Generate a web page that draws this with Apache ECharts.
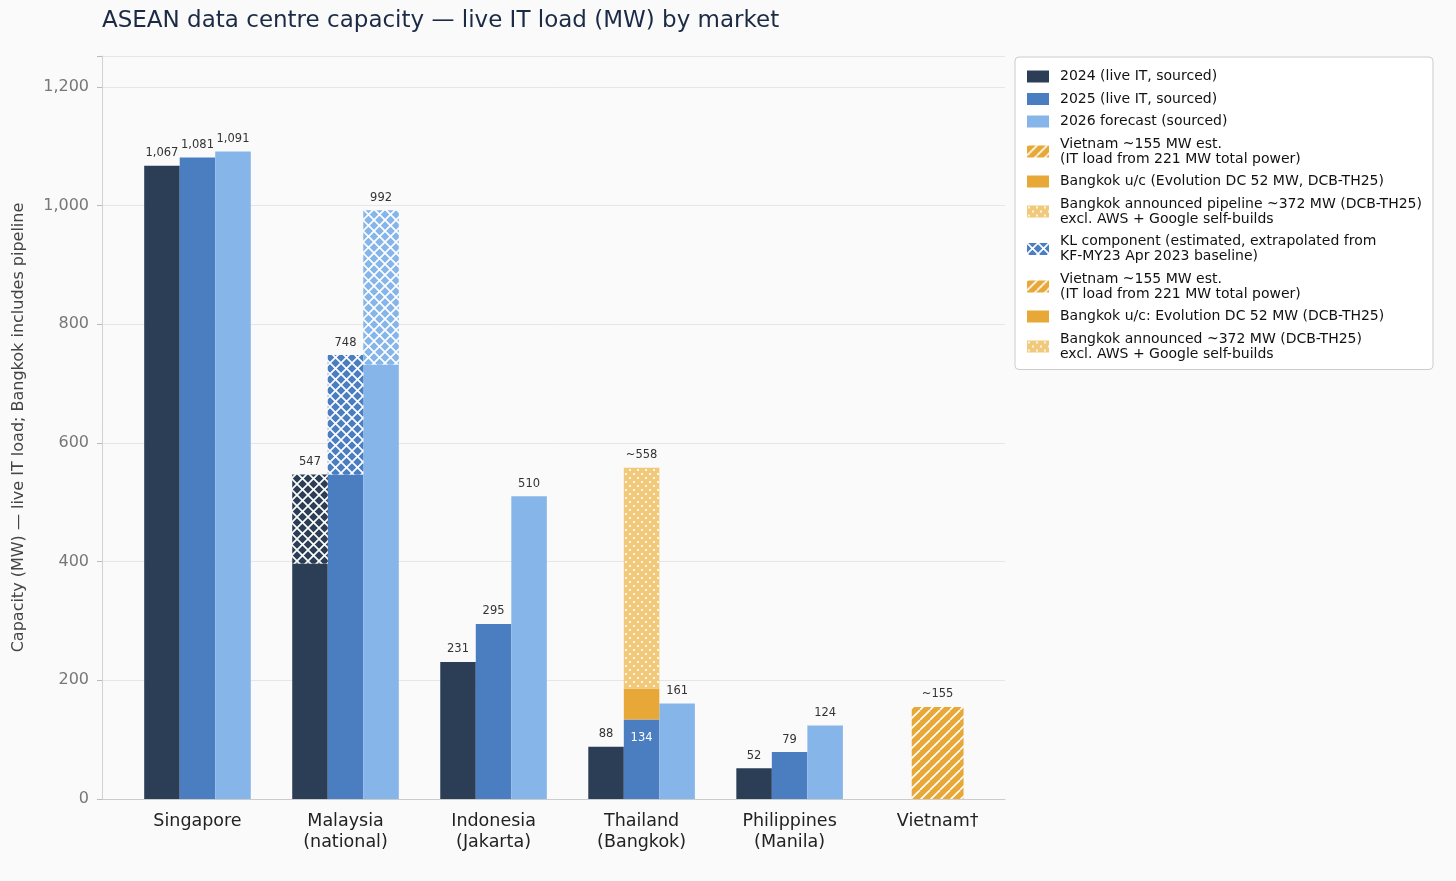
<!DOCTYPE html>
<html>
<head>
<meta charset="utf-8">
<script src="https://cdn.jsdelivr.net/npm/echarts@6.0.0/dist/echarts.min.js"></script>
<style>
  html, body { margin: 0; padding: 0; background: #fafafa; }
  #chart { width: 1456px; height: 881px; }
</style>
</head>
<body>
<div id="chart"></div>
<script>
// 市场 / 年份数据 (MW)
var categories = ['Singapore', 'Malaysia\n(national)', 'Indonesia\n(Jakarta)', 'Thailand\n(Bangkok)', 'Philippines\n(Manila)', 'Vietnam†'];
var live2024 = [1067, 397, 231, 88, 52, 0];
var live2025 = [1081, 547, 295, 134, 79, 0];
var fcst2026 = [1091, 732, 510, 161, 124, 0];
var kl2024 = [0, 150, 0, 0, 0, 0];
var kl2025 = [0, 201, 0, 0, 0, 0];
var kl2026 = [0, 260, 0, 0, 0, 0];
var bkkUnderConstruction = [0, 0, 0, 52, 0, 0];
var bkkAnnounced = [0, 0, 0, 372, 0, 0];
var vietnamEst = [0, 0, 0, 0, 0, 155];
var approxTop = [false, false, false, true, false, true]; // 估算值加 "~"
var yTicks = [0, 200, 400, 600, 800, 1000, 1200];

var names = {
  y24: '2024 (live IT, sourced)',
  y25: '2025 (live IT, sourced)',
  y26: '2026 forecast (sourced)',
  vn: 'Vietnam ~155 MW est.\n(IT load from 221 MW total power)',
  uc: 'Bangkok u/c (Evolution DC 52 MW, DCB-TH25)',
  ann: 'Bangkok announced pipeline ~372 MW (DCB-TH25)\nexcl. AWS + Google self-builds',
  kl: 'KL component (estimated, extrapolated from\nKF-MY23 Apr 2023 baseline)',
  vn2: 'Vietnam ~155 MW est.\n(IT load from 221 MW total power) ',
  uc2: 'Bangkok u/c: Evolution DC 52 MW (DCB-TH25)',
  ann2: 'Bangkok announced ~372 MW (DCB-TH25)\nexcl. AWS + Google self-builds'
};

var C24 = '#2c3e56', C25 = '#4a7ec0', C26 = '#85b5e9', ORANGE = '#e8a838', PALE = '#f1c97b';
var OFF = 0.24, BW = 0.24, VNW = 0.35;

//生成填充图案
function pattern(base, kind) {
  var s = kind === 'dots' ? 8 : (kind === 'cross' ? 11 : 10);
  var c = document.createElement('canvas');
  c.width = s; c.height = s;
  var g = c.getContext('2d');
  g.fillStyle = base;
  g.fillRect(0, 0, s, s);
  g.strokeStyle = '#ffffff';
  g.fillStyle = '#ffffff';
  g.lineWidth = kind === 'cross' ? 1.7 : 1.6;
  var k;
  if (kind === 'cross' || kind === 'slash') {
    for (k = -1; k <= 1; k++) { g.beginPath(); g.moveTo(k * s, s); g.lineTo(k * s + s, 0); g.stroke(); }
  }
  if (kind === 'cross') {
    for (k = -1; k <= 1; k++) { g.beginPath(); g.moveTo(k * s, 0); g.lineTo(k * s + s, s); g.stroke(); }
  }
  if (kind === 'dots') {
    g.beginPath(); g.arc(2, 2, 1.1, 0, Math.PI * 2); g.fill();
    g.beginPath(); g.arc(6, 6, 1.1, 0, Math.PI * 2); g.fill();
  }
  return { image: c, repeat: 'repeat' };
}

var P_KL24 = pattern(C24, 'cross'), P_KL25 = pattern(C25, 'cross'), P_KL26 = pattern(C26, 'cross');
var P_VN = pattern(ORANGE, 'slash'), P_ANN = pattern(PALE, 'dots');

// 把数组转成 [x, 底部, 高度]
function segs(values, bases, offset) {
  var out = [];
  for (var i = 0; i < values.length; i++) {
    if (values[i] > 0) out.push([i + offset, bases ? bases[i] : 0, values[i]]);
  }
  return out;
}
function addArr() {
  var r = [];
  for (var i = 0; i < categories.length; i++) {
    var s = 0;
    for (var a = 0; a < arguments.length; a++) s += arguments[a][i];
    r.push(s);
  }
  return r;
}

function barRenderer(width, fillFn) {
  return function (params, api) {
    var x = api.value(0), base = api.value(1), h = api.value(2);
    var p0 = api.coord([x - width / 2, base]);
    var p1 = api.coord([x + width / 2, base + h]);
    return {
      type: 'rect',
      shape: { x: p0[0], y: p1[1], width: p1[0] - p0[0], height: p0[1] - p1[1] },
      style: { fill: fillFn(params.dataIndex) }
    };
  };
}

function barSeries(name, data, width, color, fillFn) {
  return {
    type: 'custom', name: name, data: data,
    itemStyle: { color: color },
    renderItem: barRenderer(width, fillFn || function () { return color; }),
    z: 2
  };
}

// 标签数据
var labelItems = [];
function pushLabels(tops, offset, approx) {
  for (var i = 0; i < tops.length; i++) {
    if (tops[i] > 0) {
      labelItems.push({ x: i + offset, y: tops[i],
        text: (approx && approx[i] ? '~' : '') + tops[i].toLocaleString('en-US'), inside: false });
    }
  }
}
pushLabels(addArr(live2024, kl2024), -OFF);
pushLabels(addArr(live2025, kl2025, bkkUnderConstruction, bkkAnnounced), 0, approxTop);
pushLabels(addArr(fcst2026, kl2026), OFF);
pushLabels(vietnamEst, 0, approxTop);
labelItems.push({ x: 3, y: live2025[3], text: String(live2025[3]), inside: true });

var klData = segs(kl2024, live2024, -OFF).concat(segs(kl2025, live2025, 0), segs(kl2026, fcst2026, OFF));
var klFills = [P_KL24, P_KL25, P_KL26];

var myChart = echarts.init(document.getElementById('chart'));
var option = {
  backgroundColor: '#fafafa',
  animation: false,
  textStyle: { fontFamily: 'DejaVu Sans' },
  title: {
    text: 'ASEAN data centre capacity — live IT load (MW) by market',
    left: 102, top: 10, padding: 0,
    textStyle: { fontSize: 23, fontWeight: 'normal', color: '#1c2b45', fontFamily: 'DejaVu Sans' }
  },
  legend: {
    orient: 'vertical', left: 1015, top: 57,
    padding: [12, 11, 8, 12],
    backgroundColor: '#ffffff', borderColor: '#cccccc', borderWidth: 1, borderRadius: 4,
    icon: 'rect', itemWidth: 22, itemHeight: 12, itemGap: 7.5,
    selectedMode: false,
    textStyle: { fontSize: 14, lineHeight: 15, color: '#111', fontFamily: 'DejaVu Sans', padding: [0, 0, 0, 6] },
    data: [names.y24, names.y25, names.y26, names.vn, names.uc, names.ann, names.kl, names.vn2, names.uc2, names.ann2]
  },
  grid: { left: 102, right: 451, top: 56, bottom: 82, outerBoundsMode: 'none' },
  xAxis: {
    type: 'value', min: -0.645, max: 5.455,
    axisLine: { show: true, onZero: false, lineStyle: { color: '#cccccc' } },
    axisTick: { show: false },
    splitLine: { show: false },
    axisLabel: {
      customValues: [0, 1, 2, 3, 4, 5],
      formatter: function (v) { return categories[Math.round(v)]; },
      fontSize: 17.5, lineHeight: 21, color: '#222', margin: 12, fontFamily: 'DejaVu Sans'
    }
  },
  yAxis: {
    type: 'value', min: 0, max: 1252, interval: 200,
    name: 'Capacity (MW) — live IT load; Bangkok includes pipeline',
    nameLocation: 'middle', nameGap: 75, nameRotate: 90,
    nameTextStyle: { fontSize: 16, color: '#444', fontFamily: 'DejaVu Sans' },
    axisLine: { show: true, onZero: false, lineStyle: { color: '#d0d0d0' } },
    axisTick: { show: true, length: 5, lineStyle: { color: '#bbbbbb' } },
    splitLine: { lineStyle: { color: '#e6e6e6' } },
    axisLabel: {
      customValues: yTicks,
      formatter: function (v) { return v.toLocaleString('en-US'); },
      fontSize: 16, color: '#777', margin: 13, fontFamily: 'DejaVu Sans'
    }
  },
  series: [
    barSeries(names.y24, segs(live2024, null, -OFF), BW, C24),
    barSeries(names.y25, segs(live2025, null, 0), BW, C25),
    barSeries(names.y26, segs(fcst2026, null, OFF), BW, C26),
    barSeries(names.vn, segs(vietnamEst, null, 0), VNW, P_VN),
    barSeries(names.uc, segs(bkkUnderConstruction, live2025, 0), BW, ORANGE),
    barSeries(names.ann, segs(bkkAnnounced, addArr(live2025, bkkUnderConstruction), 0), BW, P_ANN),
    barSeries(names.kl, klData, BW, P_KL25, function (i) { return klFills[i]; }),
    barSeries(names.vn2, [], VNW, P_VN),
    barSeries(names.uc2, [], BW, ORANGE),
    barSeries(names.ann2, [], BW, P_ANN),
    {
      type: 'custom', name: 'labels', z: 5,
      data: labelItems.map(function (d) { return [d.x, d.y]; }),
      renderItem: function (params, api) {
        var d = labelItems[params.dataIndex];
        var p = api.coord([api.value(0), api.value(1)]);
        return {
          type: 'text', x: p[0], y: d.inside ? p[1] + 18.5 : p[1] - 12.5,
          style: {
            text: d.text, fill: d.inside ? '#ffffff' : '#333333',
            font: '11.5px "DejaVu Sans"', textAlign: 'center', textVerticalAlign: 'middle'
          }
        };
      }
    }
  ]
};
myChart.setOption(option);
</script>
</body>
</html>
